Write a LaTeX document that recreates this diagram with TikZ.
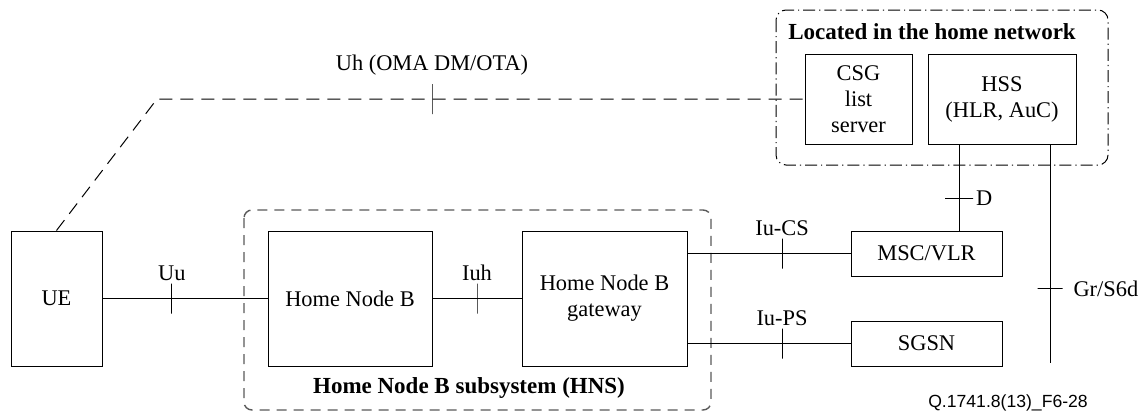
\documentclass[tikz,border=0pt]{standalone}
\usepackage{fontspec}
\setmainfont{Liberation Serif}
\setsansfont{Liberation Sans}
\usepackage{tikz}
\usepackage{xcolor}
\usetikzlibrary{positioning}

\begin{document}
\begin{tikzpicture}[x=0.5pt, y=-0.5pt, line width=0.5pt,
    font=\fontsize{11.2}{13}\selectfont,
    box/.style={draw, inner sep=2pt, align=center},
    vtick/.style={draw, inner sep=0pt, minimum width=0pt, minimum height=15pt},
    htick/.style={draw, inner sep=0pt, minimum height=0pt, minimum width=14pt},
    tag/.style={inner sep=1pt}]
\useasboundingbox (0,0) rectangle (1144,412);

% Groups
\draw[gray!70!black, line width=0.7pt, dash pattern=on 5pt off 3.5pt, rounded corners=4pt]
    (244,210) rectangle (711,410);
\node[font=\fontsize{11.5}{13}\selectfont\bfseries] (hnslbl) at (469,388) {Home Node B subsystem (HNS)};
\draw[line width=0.5pt, dash pattern=on 6pt off 2pt on 0.6pt off 2pt, rounded corners=5pt]
    (776,10) rectangle (1108,165);
\node[font=\fontsize{11.5}{13}\selectfont\bfseries] (homelbl) at (932,32) {Located in the home network};

% Boxes
\node[box, minimum width=45.5pt, minimum height=67.5pt] (ue) at (56.5,298.5) {UE};
\node[box, minimum width=82pt, minimum height=67.5pt] (hnb) at (350,298.5) {Home Node B};
\node[box, minimum width=82.5pt, minimum height=67.5pt] (gw) at (604.5,298.5) {Home Node B\\gateway};
\node[box, minimum width=75.5pt, minimum height=22.5pt] (msc) at (926.5,253.5) {MSC/VLR};
\node[box, minimum width=75.5pt, minimum height=22.5pt] (sgsn) at (926.5,343.5) {SGSN};
\node[box, minimum width=53.5pt, minimum height=45pt] (csg) at (858.5,99) {CSG\\list\\server};
\node[box, minimum width=74pt, minimum height=45pt] (hss) at (1002,99) {HSS\\(HLR, AuC)};

% Interfaces
\draw (ue.east) -- node[pos=0.42, vtick, label={[tag]above:Uu}] {} (hnb.west);
\draw (hnb.east) -- node[pos=0.5, vtick, label={[tag]above:Iuh}] {} (gw.west);
\draw (gw.east |- msc.west) -- node[pos=0.58, vtick, label={[tag]above:Iu-CS}] {} (msc.west);
\draw (gw.east |- sgsn.west) -- node[pos=0.58, vtick, label={[tag]above:Iu-PS}] {} (sgsn.west);

\coordinate (dtop) at (959,144);
\draw (dtop) -- node[pos=0.63, htick, label={[tag]right:D}] {} (dtop |- msc.north);
\coordinate (gtop) at (1050,144);
\coordinate (gend) at (1050,363);
\draw (gtop) -- node[pos=0.66, htick, minimum width=12.5pt, label={[tag, xshift=4pt]right:Gr/S6d}] {} (gend);

\coordinate (bend) at (157,99);
\draw[dash pattern=on 6.5pt off 4pt] (ue.north) -- (bend) -- (csg.west);
\node[vtick] (uhtick) at (432,99) {};
\node[tag, above=3pt of uhtick] (uhlbl) {Uh (OMA DM/OTA)};

% Figure reference
\node[font=\sffamily\fontsize{8.8}{10}\selectfont] (ref) at (1008,403) {Q.1741.8(13)\_F6-28};
\end{tikzpicture}
\end{document}
